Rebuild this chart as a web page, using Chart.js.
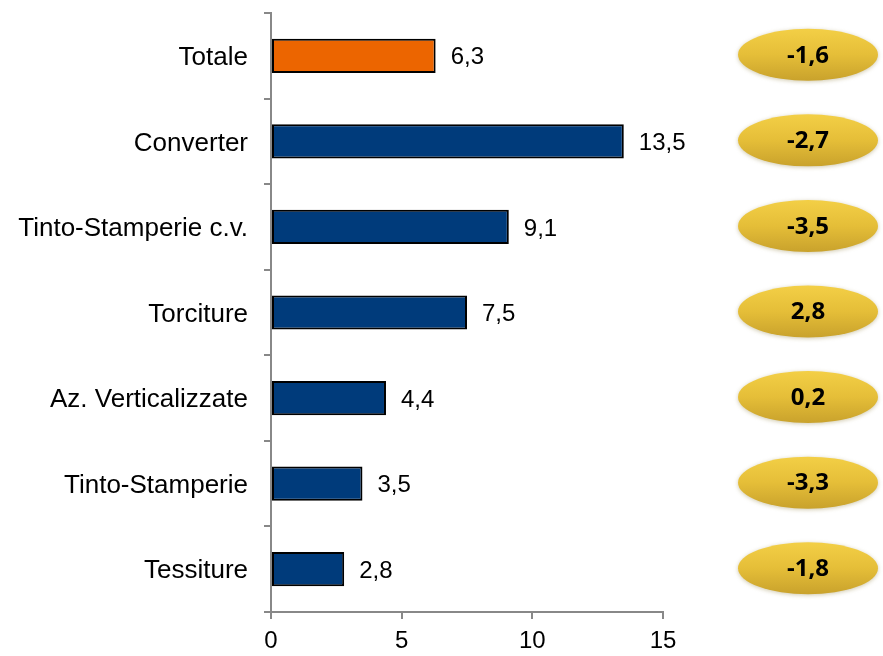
<!DOCTYPE html>
<html><head><meta charset="utf-8">
<script src="https://cdn.jsdelivr.net/npm/chart.js@4/dist/chart.umd.min.js"></script>
<style>html,body{margin:0;padding:0;background:#fff}#wrap{width:883px;height:656px}</style>
</head><body><div id="wrap"><canvas id="c" width="883" height="656"></canvas></div>
<script>
const categories = ["Totale","Converter","Tinto-Stamperie c.v.","Torciture","Az. Verticalizzate","Tinto-Stamperie","Tessiture"];
const values = [6.3,13.5,9.1,7.5,4.4,3.5,2.8];
const variations = [-1.6,-2.7,-3.5,2.8,0.2,-3.3,-1.8];
const xTicks = [0,5,10,15];

const fmt = v => v.toFixed(1).replace('.', ',');
const barColors = categories.map((c,i)=> i===0 ? '#EC6500' : '#003B7B');

const labelPlugin = {
  id:'labels',
  afterDatasetsDraw(chart){
    const ctx = chart.ctx;
    const meta = chart.getDatasetMeta(0);
    ctx.save();
    ctx.font = '24px "Liberation Sans", Arial, sans-serif';
    ctx.fillStyle = '#000';
    ctx.textBaseline = 'middle';
    ctx.textAlign = 'left';
    meta.data.forEach((bar,i)=>{
      ctx.fillText(fmt(values[i]), bar.x + 15, bar.y + 2);
    });
    const ys = chart.scales.y;
    const cx = chart.chartArea.right + 145;
    const rx = 70, ry = 26;
    variations.forEach((v,i)=>{
      const cy = ys.getPixelForValue(i) - 1;
      ctx.save();
      ctx.shadowColor = 'rgba(120,100,20,0.35)';
      ctx.shadowBlur = 4;
      ctx.shadowOffsetY = 1;
      const g = ctx.createLinearGradient(0, cy-ry, 0, cy+ry);
      g.addColorStop(0,'#F3CF46');
      g.addColorStop(0.5,'#E5BE38');
      g.addColorStop(1,'#C9A22C');
      ctx.fillStyle = g;
      ctx.beginPath();
      ctx.ellipse(cx, cy, rx, ry, 0, 0, Math.PI*2);
      ctx.fill();
      ctx.restore();
      ctx.save();
      ctx.font = 'bold 24px "Open Sans", "Liberation Sans", sans-serif';
      ctx.fillStyle = '#000';
      ctx.textAlign = 'center';
      ctx.textBaseline = 'middle';
      ctx.fillText(fmt(v), cx, cy + 1);
      ctx.restore();
    });
    ctx.restore();
  }
};

new Chart(document.getElementById('c'), {
  type:'bar',
  data:{ labels: categories, datasets:[{ data: values, backgroundColor: barColors, borderColor:'#000', borderWidth:2, borderSkipped:false, barPercentage:0.4, categoryPercentage:1 }]},
  options:{
    indexAxis:'y', responsive:false, animation:false, maintainAspectRatio:false,
    layout:{ padding:{ top:13, right:220, left:0, bottom:0 } },
    plugins:{ legend:{display:false}, tooltip:{enabled:false} },
    scales:{
      x:{ min:0, max:15, afterBuildTicks(s){ s.ticks = xTicks.map(v=>({value:v})); },
        grid:{ drawOnChartArea:false, drawTicks:true, tickLength:7, color:'#888', lineWidth:2 },
        border:{ color:'#888', width:2 },
        ticks:{ color:'#000', font:{ size:24, family:'"Liberation Sans", Arial, sans-serif' }, padding:8 },
        afterFit(s){ s.height = 44; s.paddingLeft = 0; s.paddingRight = 0; } },
      y:{ grid:{ drawOnChartArea:false, drawTicks:true, tickLength:7, color:'#888', lineWidth:2 },
        border:{ color:'#888', width:2 },
        ticks:{ color:'#000', font:{ size:26, family:'"Liberation Sans", Arial, sans-serif' }, padding:16, labelOffset:2 },
        afterFit(s){ s.width = 271; s.paddingTop = 0; s.paddingBottom = 0; } }
    }
  },
  plugins:[labelPlugin]
});
</script></body></html>
